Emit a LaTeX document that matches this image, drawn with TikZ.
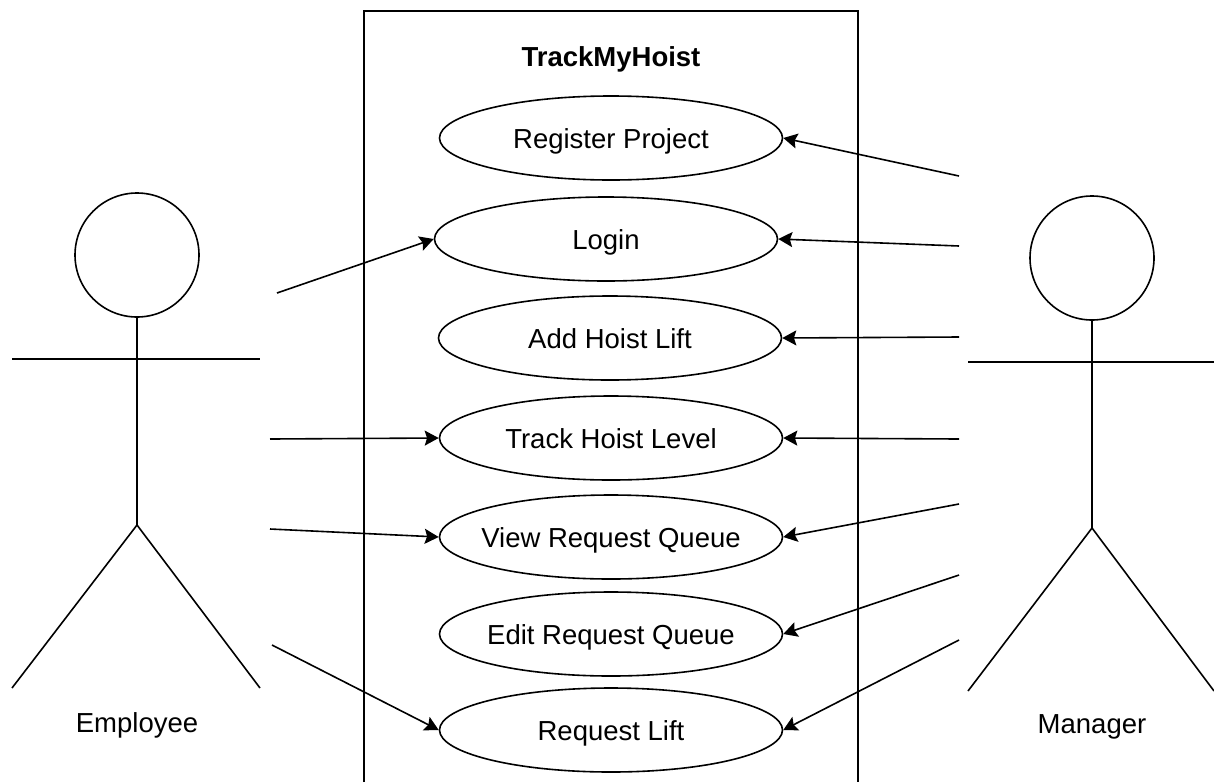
\documentclass[tikz,border=0pt]{standalone}
\usepackage{fontspec}
\setmainfont{Liberation Sans}
\usetikzlibrary{shapes.geometric,arrows.meta}

\begin{document}
\begin{tikzpicture}[x=0.5pt,y=-0.5pt,line width=0.8pt,
  font=\fontsize{13.75}{16}\selectfont,
  every node/.style={text height=11pt,text depth=1pt,inner sep=0pt},
  usecase/.style={draw,ellipse,minimum width=171.5pt,minimum height=42pt,inner xsep=-30pt},
  assoc/.style={-{Stealth[length=7pt,width=7.5pt,inset=1.2pt]}}]
\useasboundingbox (0,0) rectangle (1214,782);

% system boundary
\draw[line width=1pt] (364,782) -- (364,11) -- (858,11) -- (858,782);
\node[font=\fontsize{13.75}{16}\selectfont\bfseries] (title) at (611,56) {TrackMyHoist};

% use cases
\node[usecase] (register) at (611,138) {Register Project};
\node[usecase] (login)    at (606,239) {Login};
\node[usecase] (addhoist) at (610,338) {Add Hoist Lift};
\node[usecase] (track)    at (611,438) {Track Hoist Level};
\node[usecase] (view)     at (611,537) {View Request Queue};
\node[usecase] (edit)     at (611,634) {Edit Request Queue};
\node[usecase] (reqlift)  at (611,730) {Request Lift};

% employee
\draw (137,255) circle[radius=31pt];
\draw (137,317) -- (137,525);
\draw (12,359) -- (260,359);
\draw (12,688) -- (137,525) -- (260,688);
\node (employee) at (137,722) {Employee};

% manager
\draw (1092,258) circle[radius=31pt];
\draw (1092,320) -- (1092,528);
\draw (968,362) -- (1214,362);
\draw (968,691) -- (1092,528) -- (1214,691);
\node (manager) at (1092,723) {Manager};

% free ends of the associations
\coordinate (e1) at (277,293);
\coordinate (e2) at (270,439);
\coordinate (e3) at (270,529);
\coordinate (e4) at (272,645);
\coordinate (m1) at (959,176);
\coordinate (m2) at (959,246);
\coordinate (m3) at (959,337);
\coordinate (m4) at (959,439);
\coordinate (m5) at (959,504);
\coordinate (m6) at (959,575);
\coordinate (m7) at (959,640);

\draw[assoc] (e1) -- (login.west);
\draw[assoc] (e2) -- (track.west);
\draw[assoc] (e3) -- (view.west);
\draw[assoc] (e4) -- (reqlift.west);

\draw[assoc] (m1) -- (register.east);
\draw[assoc] (m2) -- (login.east);
\draw[assoc] (m3) -- (addhoist.east);
\draw[assoc] (m4) -- (track.east);
\draw[assoc] (m5) -- (view.east);
\draw[assoc] (m6) -- (edit.east);
\draw[assoc] (m7) -- (reqlift.east);

\end{tikzpicture}
\end{document}
